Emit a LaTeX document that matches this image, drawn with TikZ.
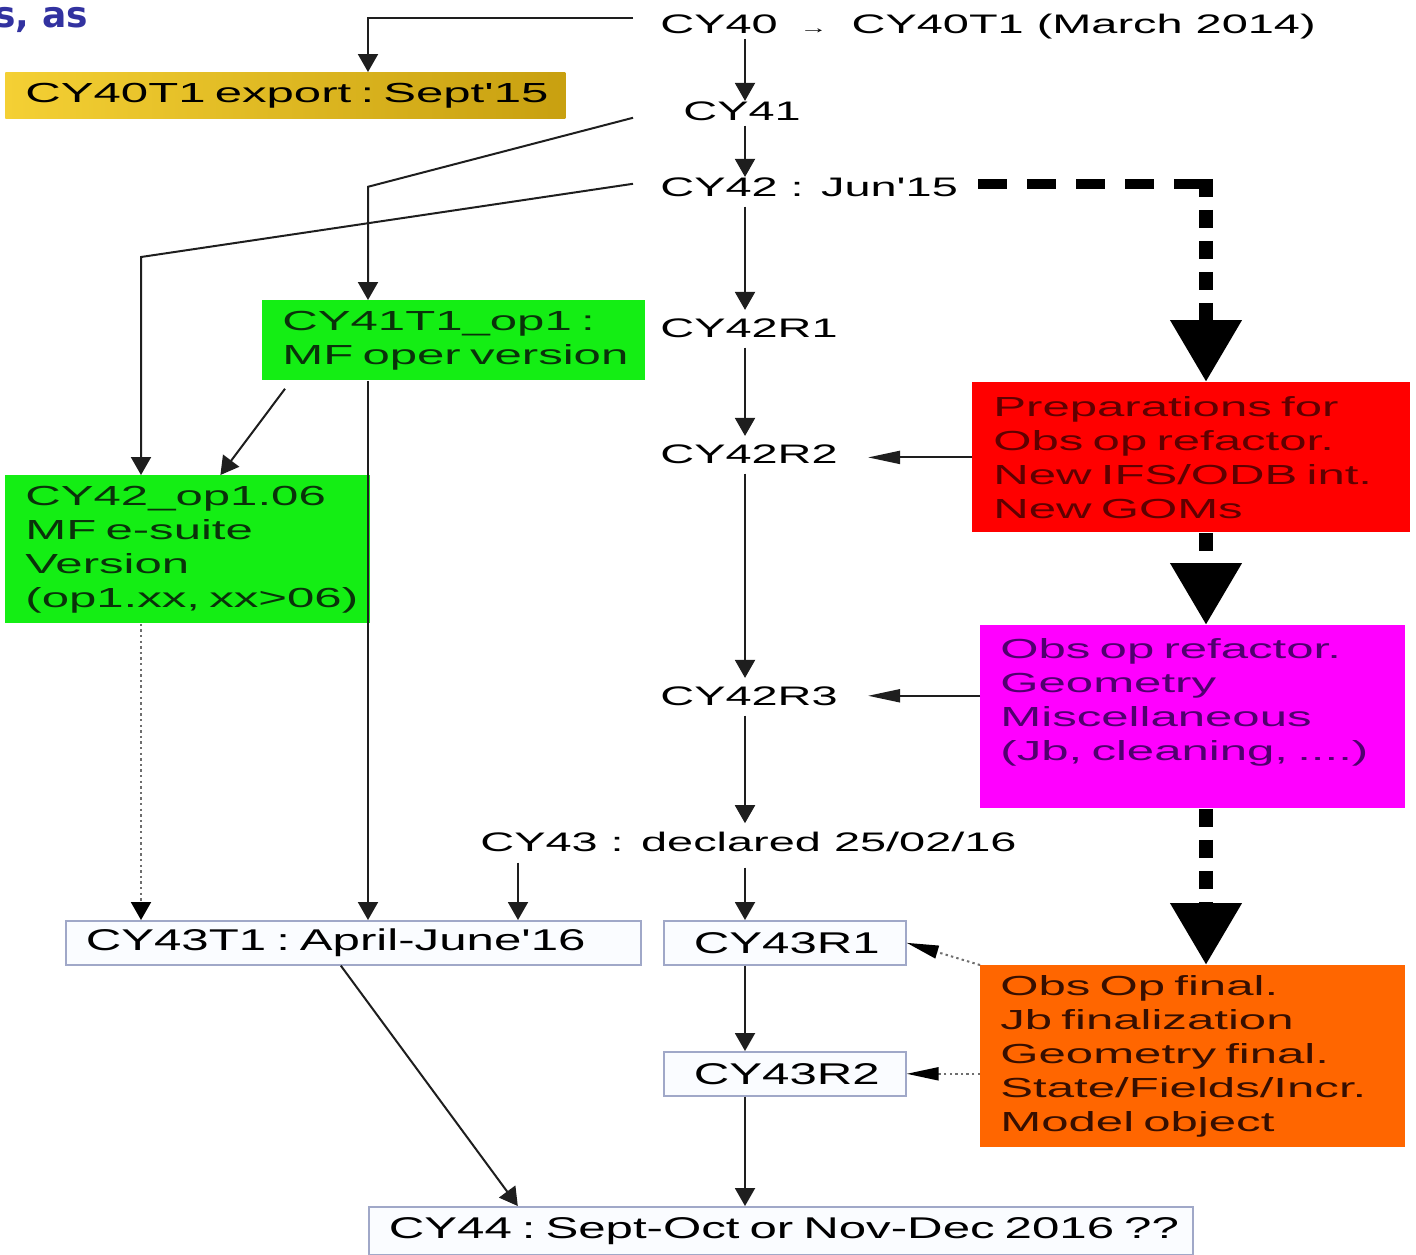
\documentclass[tikz,border=0pt]{standalone}
\usepackage{fontspec}
\setmainfont{Liberation Sans}
\newfontfamily\widesans[FakeStretch=1.75]{Liberation Sans}
\newfontfamily\blocksans[FakeStretch=1.78]{Liberation Sans}
\newfontfamily\boxsans[FakeStretch=1.64]{Liberation Sans}
\newfontfamily\slidefont{DejaVu Sans}
\usetikzlibrary{arrows.meta,calc}
\definecolor{linec}{RGB}{30,30,30}
\definecolor{dotc}{RGB}{110,110,110}
\definecolor{goldL}{RGB}{244,208,52}
\definecolor{goldR}{RGB}{200,160,16}
\definecolor{greenb}{RGB}{20,238,20}
\definecolor{greent}{RGB}{10,50,10}
\definecolor{redb}{RGB}{255,0,0}
\definecolor{redt}{RGB}{95,0,0}
\definecolor{magb}{RGB}{255,0,255}
\definecolor{magt}{RGB}{80,0,110}
\definecolor{orangeb}{RGB}{255,102,0}
\definecolor{oranget}{RGB}{55,15,0}
\definecolor{boxline}{RGB}{160,168,200}
\definecolor{boxfill}{RGB}{250,252,255}
\definecolor{slideblue}{RGB}{50,50,160}
\newcommand\labfont{\widesans\fontsize{13.4}{17}\selectfont}
\newcommand\blockfont{\blocksans\fontsize{13.8}{17}\selectfont}
\newcommand\boxfont{\boxsans\fontsize{15}{17}\selectfont}

\begin{document}
\begin{tikzpicture}[x=0.5pt,y=-0.5pt,
  lab/.style={inner sep=0pt, anchor=base west, font=\labfont},
  block/.style={anchor=north west, inner ysep=0pt, align=left, font=\blockfont,
    execute at begin node={\hyphenpenalty=10000\exhyphenpenalty=10000}},
  vbox/.style={block, draw=boxline, line width=0.8pt, fill=boxfill, font=\boxfont},
  thin/.style={draw=linec, line width=1pt},
  vtip/.style={-{Triangle[width=10pt,length=9pt]}},
  htip/.style={-{Triangle[width=6.5pt,length=16pt]}},
  dotline/.style={draw=dotc, line width=1pt, dash pattern=on 1.2pt off 1.6pt},
  bigtip/.style={-{Triangle[width=34pt,length=31pt]}},
  hdash/.style={line width=5pt, dash pattern=on 14.5pt off 10pt},
  vdash/.style={line width=7pt, dash pattern=on 9pt off 6.5pt, bigtip}]
\useasboundingbox (0,0) rectangle (1416,1254);
% columns used by the connectors
\coordinate (colA) at (141,0);
\coordinate (colB) at (368,0);
\coordinate (colC) at (518,0);
\coordinate (spine) at (745,0);
\coordinate (colR) at (1206,0);
% cut slide title
\node[inner sep=0pt, anchor=base west, text=slideblue,
  font=\slidefont\bfseries\fontsize{18}{18}\selectfont] (title) at (-6,27) {s, as};
% cycle labels
\node[lab] (cy40) at (660,33) {CY40\hspace{11pt}{\fontsize{8}{8}\selectfont →}\hspace{12pt}CY40T1 (March 2014)};
\node[lab] (cy41) at (683,120) {CY41};
\node[lab] (cy42) at (660,196) {CY42 : Jun'15};
\node[lab] (cy42r1) at (660,337) {CY42R1};
\node[lab] (cy42r2) at (660,463) {CY42R2};
\node[lab] (cy42r3) at (660,705) {CY42R3};
\node[lab] (cy43) at (480,851) {CY43 : declared 25/02/16};
% coloured blocks
\node[block, left color=goldL, right color=goldR, text width=260pt, inner xsep=10pt,
  minimum height=23pt] (export) at (5,72) {CY40T1~export~:~Sept'15};
\node[block, fill=greenb, text=greent, text width=171.5pt, inner xsep=10pt,
  minimum height=40pt] (op1) at (262,300) {CY41T1\_op1 :\\MF~oper~version};
\node[block, fill=greenb, text=greent, text width=162.5pt, inner xsep=10pt,
  minimum height=74pt] (esuite) at (5,475) {CY42\_op1.06\\MF e-suite\\Version\\(op1.xx,~xx>06)};
\node[block, fill=redb, text=redt, text width=198pt, inner xsep=10.5pt,
  minimum height=75pt] (prep) at (972,382) {Preparations for\\Obs op refactor.\\New IFS/ODB int.\\New GOMs};
\node[block, fill=magb, text=magt, text width=192.5pt, inner xsep=10pt,
  minimum height=91.5pt] (obsref) at (980,625) {Obs op refactor.\\Geometry\\Miscellaneous\\(Jb, cleaning, ....)\rule[-17pt]{0pt}{0pt}};
\node[block, fill=orangeb, text=oranget, text width=192.5pt, inner xsep=10pt,
  minimum height=91pt] (final) at (980,965) {Obs Op final.\\Jb finalization\\Geometry final.\\State/Fields/Incr.\\Model object};
% release boxes
\node[vbox, text width=267.5pt, inner xsep=10pt, minimum height=22pt] (t1box) at (65,920) {CY43T1~:~April-June'16};
\node[vbox, text width=91pt, inner xsep=15pt, minimum height=22pt] (r1box) at (663,920) {CY43R1};
\node[vbox, text width=91pt, inner xsep=15pt, minimum height=22pt] (r2box) at (663,1051) {CY43R2};
\node[vbox, text width=392pt, inner xsep=10pt, minimum height=24pt] (cy44) at (368,1206) {CY44~:~Sept-Oct~or~Nov-Dec~2016~??};
% main line
\draw[thin, vtip] (cy40.south -| spine) -- (cy41.north -| spine);
\draw[thin, vtip, shorten <=2.5pt] (cy41.south -| spine) -- (cy42.north -| spine);
\foreach \a/\b in {cy42/cy42r1, cy42r1/cy42r2, cy42r2/cy42r3, cy42r3/cy43} {
  \draw[thin, vtip, shorten <=5pt, shorten >=4pt] (\a.south -| spine) -- (\b.north -| spine);
}
\draw[thin, vtip, shorten <=8pt] (cy43.south -| spine) -- (r1box.north -| spine);
\draw[thin, vtip] (r1box.south -| spine) -- (r2box.north -| spine);
\draw[thin, vtip] (r2box.south -| spine) -- (cy44.north -| spine);
% branches to the left
\draw[thin, vtip] ($(cy40.west)+(-27,-8)$) -| (export.north -| colB);
\draw[thin, vtip] ($(cy41.west)+(-50,7)$) -- (cy42.west -| colB) -- (op1.north -| colB);
\draw[thin, vtip] ($(cy42.west)+(-27,-3)$) -- ($(esuite.north -| colA)+(0,-218)$) -- (esuite.north -| colA);
\draw[thin, vtip] ($(op1.south west)+(23,8)$) -- ($(esuite.north)+(32.5,0)$);
\draw[thin, vtip] (op1.south -| colB) -- (t1box.north -| colB);
\draw[dotline, -{Triangle[width=10pt,length=9pt,color=black]}] (esuite.south -| colA) -- (t1box.north -| colA);
\draw[thin, vtip, shorten <=5.5pt] (cy43.south -| colC) -- (t1box.north -| colC);
\draw[thin, vtip] ($(t1box.south)+(-12.5,0)$) -- ($(cy44.north)+(-263,0)$);
% refactoring steps
\draw[hdash] ($(cy42.east)+(20,-3)$) -- ($(cy42.east -| colR)+(0,-3)$);
\draw[vdash] ($(cy42.east -| colR)+(0,-8)$) -- (prep.north -| colR);
\draw[vdash] (prep.south -| colR) -- (obsref.north -| colR);
\draw[vdash] (obsref.south -| colR) -- (final.north -| colR);
\draw[thin, htip, shorten >=15pt] (prep.west) -- (prep.west -| cy42r2.east);
\draw[thin, htip, shorten >=15pt] (cy42r3.east -| obsref.west) -- (cy42r3.east);
\draw[dotline, -{Triangle[width=6.5pt,length=16pt,color=black]}] (final.north west) -- (r1box.east);
\draw[dotline, -{Triangle[width=6.5pt,length=16pt,color=black]}] (r2box.east -| final.west) -- (r2box.east);
\end{tikzpicture}
\end{document}
